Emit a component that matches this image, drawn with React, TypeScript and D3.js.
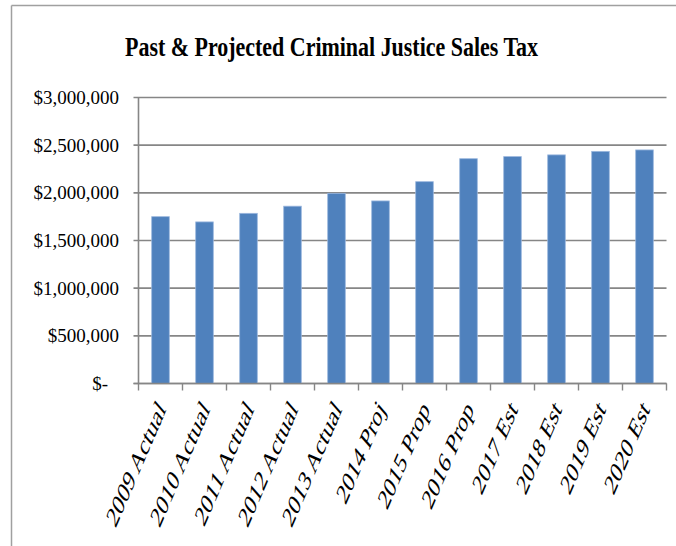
import React from "react";
import * as d3 from "d3";

const categories = [
  "2009 Actual", "2010 Actual", "2011 Actual", "2012 Actual", "2013 Actual", "2014 Proj",
  "2015 Prop", "2016 Prop", "2017 Est", "2018 Est", "2019 Est", "2020 Est",
];
const salesTax = [
  1750000, 1695000, 1785000, 1860000, 1995000, 1915000,
  2117000, 2358000, 2380000, 2398000, 2435000, 2450000,
];
const yTicks = [0, 500000, 1000000, 1500000, 2000000, 2500000, 3000000];
const title = "Past & Projected Criminal Justice Sales Tax";

const W = 676;
const H = 546;
const left = 138.5;
const right = 666.5;
const top = 97.5;
const bottom = 383.5;
const FONT = "'Liberation Serif', 'Times New Roman', serif";

export default function App() {
  const x = d3.scaleBand<string>().domain(categories).range([left, right]).paddingInner(0.6).paddingOuter(0.3);
  const y = d3.scaleLinear().domain([0, 3000000]).range([bottom, top]);
  const fmt = d3.format("$,.0f");
  const step = x.step();
  const boundaries = d3.range(categories.length + 1).map((i) => left + i * step);

  return (
    <svg width={W} height={H} style={{ position: "absolute", left: 0, top: 0, display: "block", background: "#fff" }}>
      <line x1={11.5} y1={5.5} x2={W} y2={5.5} stroke="#a0a0a0" strokeWidth={1.5} />
      <line x1={11.5} y1={5.5} x2={11.5} y2={H} stroke="#a0a0a0" strokeWidth={1.5} />
      <text x={331.5} y={56} textAnchor="middle" fontFamily={FONT} fontWeight="bold" fontSize={27}
        textLength={413} lengthAdjust="spacingAndGlyphs" fill="#000">{title}</text>
      {yTicks.map((t) => (
        <g key={t}>
          <line x1={left - 5} x2={right} y1={y(t)} y2={y(t)} stroke="#868686" strokeWidth={1.6} />
          <text x={t === 0 ? 108 : 119} y={y(t)} dy="0.35em" textAnchor="end" fontFamily={FONT} fontSize={19} fill="#000">
            {t === 0 ? "$-" : fmt(t)}
          </text>
        </g>
      ))}
      {categories.map((c, i) => (
        <rect key={c} x={x(c)} y={y(salesTax[i])} width={x.bandwidth()} height={bottom - y(salesTax[i])}
          fill="#4F81BD" stroke="#9bb7de" strokeWidth={0.8} />
      ))}
      <line x1={left} x2={left} y1={top} y2={bottom} stroke="#868686" strokeWidth={1.6} />
      <line x1={left - 5} x2={right} y1={bottom} y2={bottom} stroke="#868686" strokeWidth={1.6} />
      {boundaries.map((b, i) => (
        <line key={i} x1={b} x2={b} y1={bottom} y2={bottom + 7} stroke="#868686" strokeWidth={1.4} />
      ))}
      {categories.map((c) => {
        const cx = (x(c) as number) + x.bandwidth() / 2;
        return (
          <text key={c} transform={`translate(${cx + 6},${410}) scale(1,1.63) rotate(-55)`} textAnchor="end"
            fontFamily={FONT} fontSize={18.3} fill="#000">{c}</text>
        );
      })}
    </svg>
  );
}
